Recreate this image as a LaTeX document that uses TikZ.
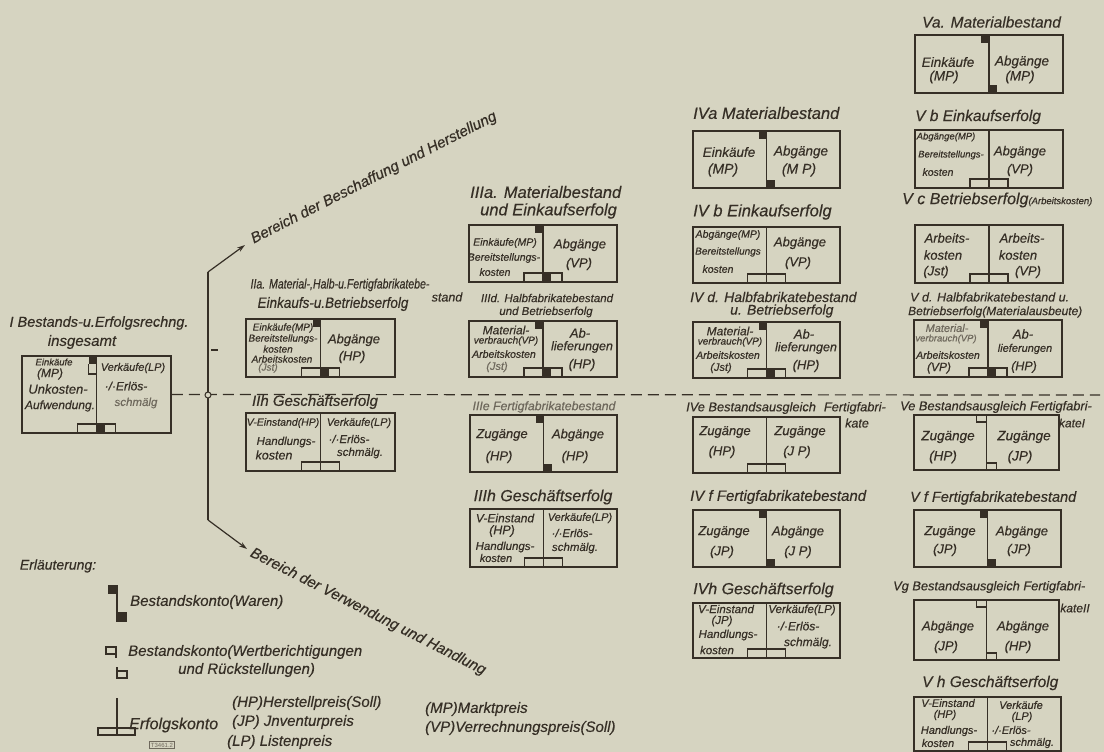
\documentclass[tikz,border=0pt]{standalone}
\usepackage{fontspec}
\setmainfont{Liberation Sans}[ItalicFeatures={FakeBold=0.35}]
\usetikzlibrary{arrows.meta}
\definecolor{bg}{RGB}{214,212,193}
\definecolor{ink}{RGB}{54,47,38}
\definecolor{fade}{RGB}{110,104,92}
\tikzset{
  txt/.style={inner sep=0pt, text=ink},
  acctbox/.style={draw=ink, line width=1.8pt, inner sep=0pt, rectangle},
  acctline/.style={draw=ink, line width=1.6pt},
  symline/.style={draw=ink, line width=1.3pt},
  lin/.style={draw=ink, line width=1.2pt},
  dsh/.style={draw=ink, line width=1.2pt, dash pattern=on 11pt off 6pt},
  hubc/.style={circle, draw=ink, fill=bg, minimum size=6pt, inner sep=0pt, line width=1pt}
}
\newcommand\Tc[4]{\node[txt,font={\fontsize{#3}{#3}\selectfont\itshape}] (#1) at (#2) {#4};}
\newcommand\Tw[4]{\node[txt,anchor=west,font={\fontsize{#3}{#3}\selectfont\itshape}] (#1) at (#2) {#4};}
\newcommand\Tcs[5]{\node[txt,font={\fontsize{#3}{#3}\selectfont\itshape}] (#1) at (#2) {\scalebox{#4}[1]{#5}};}
\newcommand\acct[5]{\node[acctbox,minimum width={(#4-#2)*1pt},minimum height={(#5-#3)*1pt}] (#1) at ({(#2+#4)/2},{(#3+#5)/2}) {};
  \draw[acctline] (#1.north) -- (#1.south);}
\newcommand\symwaren[1]{%
  \fill[ink] ([shift={(-8,0)}]#1.north) rectangle ([shift={(0,9)}]#1.north);
  \fill[ink] ([shift={(0,-9)}]#1.south) rectangle ([shift={(8,0)}]#1.south);}
\newcommand\symerfolg[1]{%
  \draw[symline] ([shift={(-19,0)}]#1.south) -- ([shift={(-19,-10)}]#1.south) -- ([shift={(19,-10)}]#1.south) -- ([shift={(19,0)}]#1.south);}
\newcommand\symwert[1]{%
  \draw[symline] ([shift={(-10,0)}]#1.north) -- ([shift={(-10,8)}]#1.north) -- ([shift={(0,8)}]#1.north);
  \draw[symline] ([shift={(0,-8)}]#1.south) -- ([shift={(10,-8)}]#1.south) -- ([shift={(10,0)}]#1.south);}
\begin{document}
\begin{tikzpicture}[x=1pt,y=-1pt]
\useasboundingbox (0,0) rectangle (1104,752);
\fill[bg] (0,0) rectangle (1104,752);

% ---------- accounts ----------
\acct{I}{22}{356}{171}{433}
\acct{IIa}{246}{319}{395}{377}
\acct{IIh}{246}{413}{395}{471}
\acct{IIIa}{469}{225}{617}{282}
\acct{IIId}{469}{321}{617}{377}
\acct{IIIe}{470}{415}{617}{472}
\acct{IIIh}{470}{509}{617}{567}
\acct{IVa}{693}{131}{840}{188}
\acct{IVb}{693}{227}{840}{283}
\acct{IVd}{693}{322}{840}{378}
\acct{IVe}{693}{417}{840}{473}
\acct{IVf}{693}{510}{840}{567}
\acct{IVh}{693}{603}{840}{658}
\acct{Va}{915}{35}{1063}{93}
\acct{Vb}{915}{130}{1063}{188}
\acct{Vc}{915}{225}{1063}{283}
\acct{Vd}{914}{320}{1062}{377}
\acct{Ve}{914}{415}{1059}{470}
\acct{Vf}{914}{510}{1061}{567}
\acct{Vg}{914}{600}{1059}{660}
\acct{Vh}{914}{697}{1061}{751}

\symerfolg{I}\symwaren{I}
\draw[symline] ([shift={(-8,9)}]I.north) -- ([shift={(-8,19)}]I.north) -- ([shift={(0,19)}]I.north);
\symerfolg{IIa}\symwaren{IIa}
\symerfolg{IIh}
\symerfolg{IIIa}\symwaren{IIIa}
\symerfolg{IIId}\symwaren{IIId}
\symwaren{IIIe}
\symerfolg{IIIh}
\symwaren{IVa}
\symerfolg{IVb}
\symerfolg{IVd}\symwaren{IVd}
\symerfolg{IVe}
\symwaren{IVf}
\symerfolg{IVh}
\symwaren{Va}
\symerfolg{Vb}
\symerfolg{Vc}
\symerfolg{Vd}\symwaren{Vd}
\symwert{Ve}
\symwaren{Vf}
\symwert{Vg}
\symerfolg{Vh}

% ---------- tree ----------
\coordinate (brT) at (208,272);
\coordinate (brB) at (208,520);
\coordinate (tipT) at (245,245);
\coordinate (tipB) at (247,549);
\coordinate (tickA) at (211,350);
\coordinate (tickB) at (218,350);
\coordinate (dashE) at (1100,395);
\draw[lin] (brT) -- (brB);
\draw[lin] (tickA) -- (tickB);
\draw[lin,-{Stealth[length=8pt,width=5pt]}] (brT) -- (tipT);
\draw[lin,-{Stealth[length=8pt,width=5pt]}] (brB) -- (tipB);
\draw[dsh] (I.east) -- (dashE);
\node[hubc] (hub) at (208,395) {};

\node[txt,rotate=27,font={\fontsize{15}{15}\selectfont\itshape}] (R1) at (374,178) {Bereich der Beschaffung und Herstellung};
\node[txt,rotate=-27,font={\fontsize{15}{15}\selectfont\itshape}] (R2) at (368,612) {Bereich der Verwendung und Handlung};

% ---------- I ----------
\Tc{it1}{99,323}{14.5}{I Bestands-u.Erfolgsrechng.}
\Tc{it2}{82,342}{15}{insgesamt}
\Tc{i1}{54,362}{9.5}{Einkäufe}
\Tc{i2}{50,374}{12}{(MP)}
\Tc{i3}{58,389}{13}{Unkosten-}
\Tc{i4}{60,406}{12}{Aufwendung.}
\Tc{i5}{133,368}{11}{Verkäufe(LP)}
\Tc{i6}{126,386}{12}{·/·Erlös-}
\Tc{i7}{136,403}{11.5}{\color{fade}schmälg}

% ---------- IIa ----------
\Tcs{a1}{340,285}{13.5}{0.78}{IIa. Material-,Halb-u.Fertigfabrikatebe-}
\Tc{a2}{447,297}{12.5}{stand}
\Tcs{a3}{333,304}{15}{0.9}{Einkaufs-u.Betriebserfolg}
\Tc{a4}{283,328}{10}{Einkäufe(MP)}
\Tc{a5}{283,339}{10}{Bereitstellungs-}
\Tc{a6}{278,349}{10}{kosten}
\Tc{a7}{282,359}{10}{Arbeitskosten}
\Tc{a8}{268,368}{10}{\color{fade}(Jst)}
\Tc{a9}{354,340}{13}{Abgänge}
\Tc{a10}{352,357}{13}{(HP)}

% ---------- IIh ----------
\Tc{h0}{315,402}{15}{IIh Geschäftserfolg}
\Tc{h1}{283,423}{10.5}{V-Einstand(HP)}
\Tc{h2}{286,442}{11.5}{Handlungs-}
\Tc{h3}{274,455}{12.5}{kosten}
\Tc{h4}{359,423}{11}{Verkäufe(LP)}
\Tc{h5}{349,439}{11.5}{·/·Erlös-}
\Tc{h6}{360,453}{11.5}{schmälg.}

% ---------- IIIa ----------
\Tw{b0}{470,192}{16.5}{IIIa. Materialbestand}
\Tw{b00}{480,211}{16.5}{und Einkaufserfolg}
\Tc{b1}{505,243}{10.5}{Einkäufe(MP)}
\Tc{b2}{504,258}{10.5}{Bereitstellungs-}
\Tc{b3}{495,272}{10.5}{kosten}
\Tc{b4}{580,245}{13}{Abgänge}
\Tc{b5}{579,264}{13}{(VP)}

% ---------- IIId ----------
\Tc{d0}{547,298}{11.5}{IIId. Halbfabrikatebestand}
\Tc{d00}{546,312}{11.5}{und Betriebserfolg}
\Tc{d1}{506,330}{12}{Material-}
\Tc{d2}{506,341}{10}{verbrauch(VP)}
\Tc{d3}{504,354}{10.5}{Arbeitskosten}
\Tc{d4}{497,367}{11}{\color{fade}(Jst)}
\Tc{d5}{580,333}{13}{Ab-}
\Tc{d6}{582,347}{12.5}{lieferungen}
\Tc{d7}{582,365}{13}{(HP)}

% ---------- IIIe ----------
\Tc{e0}{544,407}{12.3}{\color{fade}IIIe Fertigfabrikatebestand}
\Tc{e1}{502,435}{13}{Zugänge}
\Tc{e2}{499,457}{13}{(HP)}
\Tc{e3}{578,435}{13}{Abgänge}
\Tc{e4}{575,457}{13}{(HP)}

% ---------- IIIh ----------
\Tc{g0}{543,497}{16}{IIIh Geschäftserfolg}
\Tc{g1}{505,518}{12}{V-Einstand}
\Tc{g2}{502,531}{12.5}{(HP)}
\Tc{g3}{505,547}{11.5}{Handlungs-}
\Tc{g4}{496,558}{11}{kosten}
\Tc{g5}{580,518}{11}{Verkäufe(LP)}
\Tc{g6}{572,533}{11.5}{·/·Erlös-}
\Tc{g7}{575,548}{11.5}{schmälg.}

% ---------- IVa ----------
\Tw{p0}{693,113}{16.5}{IVa Materialbestand}
\Tc{p1}{729,152}{13.5}{Einkäufe}
\Tc{p2}{723,170}{14}{(MP)}
\Tc{p3}{801,152}{13.5}{Abgänge}
\Tc{p4}{799,170}{14}{(M P)}

% ---------- IVb ----------
\Tw{q0}{693,212}{16.5}{IV b Einkaufserfolg}
\Tc{q1}{728,235}{10.5}{Abgänge(MP)}
\Tc{q2}{728,252}{10}{Bereitstellungs}
\Tc{q3}{718,269}{10.5}{kosten}
\Tc{q4}{800,243}{13}{Abgänge}
\Tc{q5}{798,263}{13}{(VP)}

% ---------- IVd ----------
\Tw{r0}{690,297}{14}{IV d. Halbfabrikatebestand}
\Tw{r00}{730,311}{14}{u. Betriebserfolg}
\Tc{r1}{730,331}{12}{Material-}
\Tc{r2}{730,342}{10}{verbrauch(VP)}
\Tc{r3}{728,355}{10.5}{Arbeitskosten}
\Tc{r4}{721,368}{11}{(Jst)}
\Tc{r5}{804,334}{13}{Ab-}
\Tc{r6}{806,348}{12.5}{lieferungen}
\Tc{r7}{806,366}{13}{(HP)}

% ---------- IVe ----------
\Tw{s0}{686,408}{12.8}{IVe Bestandsausgleich\hspace{8pt}Fertigfabri-}
\Tc{s00}{857,423}{12.5}{kate}
\Tc{s1}{725,432}{13}{Zugänge}
\Tc{s2}{722,452}{13}{(HP)}
\Tc{s3}{800,432}{13}{Zugänge}
\Tc{s4}{797,452}{13}{(J P)}

% ---------- IVf ----------
\Tw{u0}{690,497}{15}{IV f Fertigfabrikatebestand}
\Tc{u1}{724,532}{13}{Zugänge}
\Tc{u2}{722,552}{13}{(JP)}
\Tc{u3}{798,532}{13}{Abgänge}
\Tc{u4}{798,552}{13}{(J P)}

% ---------- IVh ----------
\Tw{v0}{693,590}{16}{IVh Geschäftserfolg}
\Tc{v1}{726,609}{11.5}{V-Einstand}
\Tc{v2}{722,621}{11.5}{(JP)}
\Tc{v3}{728,635}{11.5}{Handlungs-}
\Tc{v4}{717,650}{11.5}{kosten}
\Tc{v5}{802,610}{11.5}{Verkäufe(LP)}
\Tc{v6}{798,626}{12}{·/·Erlös-}
\Tc{v7}{808,643}{12}{schmälg.}

% ---------- Va ----------
\Tw{w0}{922,22}{15.5}{Va. Materialbestand}
\Tc{w1}{948,62}{13.5}{Einkäufe}
\Tc{w2}{944,77}{13.5}{(MP)}
\Tc{w3}{1022,62}{13.5}{Abgänge}
\Tc{w4}{1020,77}{13.5}{(MP)}

% ---------- Vb ----------
\Tw{x0}{915,117}{15.5}{V b Einkaufserfolg}
\Tc{x1}{946,137}{9.5}{Abgänge(MP)}
\Tc{x2}{951,155}{9.5}{Bereitstellungs-}
\Tc{x3}{938,172}{10.5}{kosten}
\Tc{x4}{1020,152}{13}{Abgänge}
\Tc{x5}{1020,170}{13}{(VP)}

% ---------- Vc ----------
\Tw{y0}{902,200}{16}{V c Betriebserfolg{\fontsize{9.5}{9.5}\selectfont(Arbeitskosten)}}
\Tc{y1}{947,238}{13}{Arbeits-}
\Tc{y2}{943,255}{13}{kosten}
\Tc{y3}{936,272}{13}{(Jst)}
\Tc{y4}{1022,238}{13}{Arbeits-}
\Tc{y5}{1018,255}{13}{kosten}
\Tc{y6}{1028,272}{13}{(VP)}

% ---------- Vd ----------
\Tw{z0}{910,297}{12.5}{V d. Halbfabrikatebestand u.}
\Tw{z00}{908,312}{12}{Betriebserfolg(Materialausbeute)}
\Tc{z1}{947,328}{11}{\color{fade}Material-}
\Tc{z2}{946,339}{9.5}{\color{fade}verbrauch(VP)}
\Tc{z3}{948,355}{10.5}{Arbeitskosten}
\Tc{z4}{939,368}{12}{(VP)}
\Tc{z5}{1023,334}{13}{Ab-}
\Tc{z6}{1025,349}{11}{lieferungen}
\Tc{z7}{1024,367}{12.5}{(HP)}

% ---------- Ve ----------
\Tw{k0}{900,407}{12.8}{Ve Bestandsausgleich Fertigfabri-}
\Tc{k00}{1072,423}{12}{kateI}
\Tc{k1}{948,437}{13.5}{Zugänge}
\Tc{k2}{943,457}{13.5}{(HP)}
\Tc{k3}{1024,437}{13.5}{Zugänge}
\Tc{k4}{1020,457}{13.5}{(JP)}

% ---------- Vf ----------
\Tw{m0}{910,498}{14.5}{V f Fertigfabrikatebestand}
\Tc{m1}{950,532}{13}{Zugänge}
\Tc{m2}{945,550}{13}{(JP)}
\Tc{m3}{1022,532}{13}{Abgänge}
\Tc{m4}{1019,550}{13}{(JP)}

% ---------- Vg ----------
\Tw{n0}{893,587}{12.8}{Vg Bestandsausgleich Fertigfabri-}
\Tc{n00}{1075,608}{12}{kateII}
\Tc{n1}{948,627}{13}{Abgänge}
\Tc{n2}{946,647}{13}{(JP)}
\Tc{n3}{1023,627}{13}{Abgänge}
\Tc{n4}{1018,647}{13}{(HP)}

% ---------- Vh ----------
\Tw{o0}{922,683}{15.5}{V h Geschäftserfolg}
\Tc{o1}{948,703}{11}{V-Einstand}
\Tc{o2}{945,715}{11}{(HP)}
\Tc{o3}{949,731}{11}{Handlungs-}
\Tc{o4}{938,743}{11}{kosten}
\Tc{o5}{1021,705}{11}{Verkäufe}
\Tc{o6}{1022,717}{11}{(LP)}
\Tc{o7}{1011,730}{11}{·/·Erlös-}
\Tc{o8}{1032,743}{11}{schmälg.}

% ---------- legend ----------
\Tc{L0}{58,566}{14}{Erläuterung:}
\fill[ink] (108,585) rectangle (117,594);
\draw[ink,line width=1.5pt] (117,585) -- (117,622);
\fill[ink] (117,612) rectangle (127,622);
\Tw{L1}{130,602}{15}{Bestandskonto(Waren)}
\draw[symline] (106,647) rectangle (116,654);
\draw[symline] (116,647) -- (116,658);
\draw[symline] (117,667) -- (117,678);
\draw[symline] (117,671) rectangle (127,678);
\Tw{L2}{128,652}{15}{Bestandskonto(Wertberichtigungen}
\Tw{L3}{178,670}{15}{und Rückstellungen)}
\draw[symline] (117,698) -- (117,735);
\draw[symline] (98,728) rectangle (135,735);
\Tw{L4}{129,725}{16}{Erfolgskonto}
\node[draw=fade, line width=0.6pt, inner sep=1.5pt, text=fade, font={\fontsize{6}{6}\selectfont}] (L10) at (162,745) {T3461.2};
\Tw{L5}{232,703}{15}{(HP)Herstellpreis(Soll)}
\Tw{L6}{232,722}{15}{(JP) Jnventurpreis}
\Tw{L7}{227,742}{15}{(LP) Listenpreis}
\Tw{L8}{425,709}{15}{(MP)Marktpreis}
\Tw{L9}{425,728}{15}{(VP)Verrechnungspreis(Soll)}
\end{tikzpicture}
\end{document}
